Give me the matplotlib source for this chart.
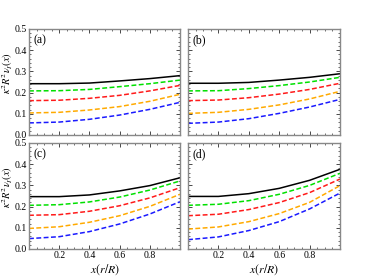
import matplotlib
matplotlib.use("Agg")
import matplotlib.pyplot as plt
from matplotlib.ticker import MultipleLocator

plt.rcParams['font.family'] = ['Liberation Serif', 'DejaVu Serif']
plt.rcParams['mathtext.fontset'] = 'stix'

x = [0.0, 0.2, 0.4, 0.6, 0.8, 1.0]

a_black = [0.242, 0.242, 0.245, 0.255, 0.266, 0.280]
a_green = [0.208, 0.209, 0.215, 0.228, 0.242, 0.259]
a_red = [0.162, 0.164, 0.173, 0.187, 0.208, 0.234]
a_orange = [0.104, 0.107, 0.118, 0.134, 0.159, 0.192]
a_blue = [0.057, 0.061, 0.074, 0.094, 0.121, 0.154]

b_black = [0.244, 0.244, 0.248, 0.259, 0.272, 0.289]
b_green = [0.208, 0.209, 0.219, 0.233, 0.250, 0.272]
b_red = [0.162, 0.165, 0.176, 0.193, 0.215, 0.244]
b_orange = [0.102, 0.107, 0.121, 0.142, 0.170, 0.206]
b_blue = [0.055, 0.061, 0.077, 0.102, 0.132, 0.168]

c_black = [0.247, 0.247, 0.255, 0.274, 0.299, 0.336]
c_green = [0.206, 0.209, 0.222, 0.245, 0.278, 0.321]
c_red = [0.159, 0.162, 0.178, 0.204, 0.241, 0.289]
c_orange = [0.097, 0.105, 0.126, 0.157, 0.201, 0.258]
c_blue = [0.049, 0.058, 0.082, 0.118, 0.165, 0.223]

d_black = [0.248, 0.248, 0.261, 0.286, 0.324, 0.376]
d_green = [0.206, 0.211, 0.228, 0.258, 0.300, 0.357]
d_red = [0.157, 0.164, 0.186, 0.219, 0.266, 0.330]
d_orange = [0.094, 0.104, 0.129, 0.167, 0.220, 0.299]
d_blue = [0.044, 0.057, 0.087, 0.129, 0.189, 0.264]

panel_labels = ['(a)', '(b)', '(c)', '(d)']
ylabel_top = r'$\kappa^2 R^2 \nu_I(x)$'
ylabel_bottom = r'$\kappa^2 R^2 \nu_I(x)$'
xlabel = r'$x(r/R)$'
xticks = [0.2, 0.4, 0.6, 0.8]
yticks = [0.0, 0.1, 0.2, 0.3, 0.4, 0.5]

panels = [
    (a_black, a_green, a_red, a_orange, a_blue),
    (b_black, b_green, b_red, b_orange, b_blue),
    (c_black, c_green, c_red, c_orange, c_blue),
    (d_black, d_green, d_red, d_orange, d_blue),
]
colors = ['black', '#00e000', '#ff1a1a', '#ffaa00', '#1a1aff']

fig = plt.figure(figsize=(3.70, 2.79), dpi=100)
W, H = 370, 279
boxes = [(29, 29, 180, 135), (188, 29, 340, 135), (29, 143, 180, 249), (188, 143, 340, 249)]

for i, (box, data) in enumerate(zip(boxes, panels)):
    l, t, r, b = box
    ax = fig.add_axes([l / W, 1 - b / H, (r - l) / W, (b - t) / H])
    for j, (ys, c) in enumerate(zip(data, colors)):
        if j == 0:
            ax.plot(x, ys, color=c, lw=1.1, solid_capstyle='butt')
        else:
            ax.plot(x, ys, color=c, lw=1.1, ls=(0, (3.2, 1.6)))
    ax.set_xlim(0, 1)
    ax.set_ylim(0, 0.5)
    ax.set_xticks(xticks)
    ax.set_yticks(yticks)
    ax.xaxis.set_minor_locator(MultipleLocator(0.05))
    ax.yaxis.set_minor_locator(MultipleLocator(0.02))
    ax.tick_params(which='both', direction='in', top=True, right=True, labelsize=7, pad=1.5)
    ax.tick_params(which='major', length=3, width=0.5)
    ax.tick_params(which='minor', length=1.5, width=0.4)
    for s in ax.spines.values():
        s.set_color('#888888')
        s.set_linewidth(1.0)
    if i % 2 == 1:
        ax.set_yticklabels([])
    else:
        ax.set_yticklabels(['%.1f' % v for v in yticks])
        ax.set_ylabel(ylabel_top if i == 0 else ylabel_bottom, fontsize=7.5)
        ax.yaxis.set_label_coords(-0.093, 0.58)
    if i < 2:
        ax.set_xticklabels([])
    else:
        ax.set_xticklabels(['%.1f' % v for v in xticks])
        ax.set_xlabel(xlabel, fontsize=8.5, labelpad=2)
    ax.text(0.03, 0.95, panel_labels[i], transform=ax.transAxes, fontsize=8.5, va='top', ha='left')

fig.savefig('out.png', dpi=100)
